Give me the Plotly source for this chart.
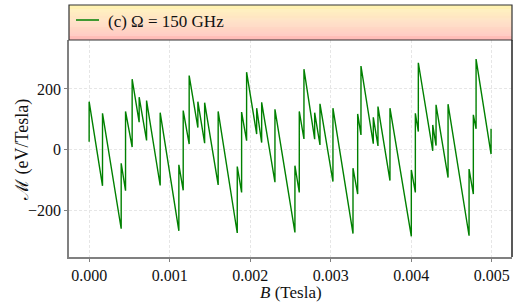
import plotly.graph_objects as go

# Magnetization sawtooth vertices (B in Tesla, M in eV/Tesla)
B = [0.0, 0.0, 0.000166, 0.000166, 0.000398, 0.000398, 0.000452, 0.000452,
     0.000534, 0.000534, 0.000621, 0.000621, 0.000713, 0.000713,
     0.000882, 0.000882, 0.001114, 0.001114, 0.001168, 0.001168,
     0.001242, 0.001242, 0.001350, 0.001350, 0.001434, 0.001434,
     0.001602, 0.001602, 0.001839, 0.001839, 0.001893, 0.001893,
     0.001955, 0.001955, 0.002080, 0.002080, 0.002142, 0.002142,
     0.002307, 0.002307, 0.002555, 0.002555, 0.002609, 0.002609,
     0.002667, 0.002667, 0.002800, 0.002800, 0.002866, 0.002866,
     0.003027, 0.003027, 0.003276, 0.003276, 0.003334, 0.003334,
     0.003375, 0.003375, 0.003528, 0.003528, 0.003586, 0.003586,
     0.003735, 0.003735, 0.004000, 0.004000, 0.004050, 0.004050,
     0.004087, 0.004087, 0.004266, 0.004266, 0.004307, 0.004307,
     0.004456, 0.004456, 0.004717, 0.004717, 0.004770, 0.004770,
     0.004804, 0.004804, 0.004990, 0.004990]
M = [27, 158, -118, 120, -259, -44, -134, 126,
     9, 232, 91, 173, 31, 162,
     -117, 122, -266, -49, -133, 129,
     19, 244, 73, 158, 22, 155,
     -115, 126, -273, -55, -140, 124,
     30, 255, 52, 137, 24, 156,
     -106, 133, -271, -52, -140, 126,
     36, 265, 35, 122, 16, 151,
     -104, 137, -275, -60, -145, 118,
     49, 275, 20, 107, 13, 142,
     -101, 137, -284, -66, -140, 120,
     60, 286, -3, 82, 14, 148,
     -91, 150, -282, -63, -145, 115,
     69, 298, -14, 69]

x_ticks = [0.000, 0.001, 0.002, 0.003, 0.004, 0.005]
x_tick_labels = ["0.000", "0.001", "0.002", "0.003", "0.004", "0.005"]
y_ticks = [-200, 0, 200]
y_tick_labels = ["\u2212200", "0", "200"]
series_name = "(c) \u03a9 = 150 GHz"
x_title = "<i>B</i> (Tesla)"
y_title = "\u2133 (eV/Tesla)"

FONT = "Liberation Serif"
TXT = "#111111"
W, H = 518, 304
ML, MR, MT, MB = 69, 6, 40, 47
plot_h = H - MT - MB
plot_w = W - ML - MR


def px_x(px):
    return (px - ML) / plot_w


def px_y(py):
    return (H - MB - py) / plot_h


fig = go.Figure()
fig.add_trace(go.Scatter(x=B, y=M, mode="lines", name=series_name,
                         line=dict(color="#008000", width=1.4), showlegend=False))

shapes = []
# gradient legend box above the axes
leg_top = px_y(5)
n = 36
c_top = (255, 246, 178)
c_bot = (255, 184, 184)
for i in range(n):
    t = (i + 0.5) / n
    r = round(c_top[0] + (c_bot[0] - c_top[0]) * t)
    g = round(c_top[1] + (c_bot[1] - c_top[1]) * t)
    b = round(c_top[2] + (c_bot[2] - c_top[2]) * t)
    y1 = leg_top - (leg_top - 1) * i / n
    y0 = leg_top - (leg_top - 1) * (i + 1) / n
    shapes.append(dict(type="rect", xref="paper", yref="paper", x0=0, x1=1,
                       y0=y0, y1=y1, fillcolor=f"rgb({r},{g},{b})",
                       line=dict(width=0), layer="below"))
shapes.append(dict(type="rect", xref="paper", yref="paper", x0=0, x1=1,
                   y0=1, y1=leg_top, line=dict(color="#333333", width=1.2)))
# legend sample line
shapes.append(dict(type="line", xref="paper", yref="paper",
                   x0=px_x(76), x1=px_x(99), y0=px_y(20), y1=px_y(20),
                   line=dict(color="#008000", width=1.5)))
# right border (darker)
shapes.append(dict(type="line", xref="paper", yref="paper", x0=1, x1=1, y0=0, y1=1,
                   line=dict(color="#222222", width=1.5)))

annotations = [
    dict(text=series_name, xref="paper", yref="paper", x=px_x(106), y=px_y(21),
         xanchor="left", yanchor="middle", showarrow=False,
         font=dict(family=FONT, size=17, color=TXT)),
    dict(text=x_title, xref="paper", yref="paper", x=px_x(290.5), y=px_y(281),
         xanchor="center", yanchor="top", showarrow=False,
         font=dict(family=FONT, size=17, color=TXT)),
    dict(text=y_title, xref="paper", yref="paper", x=px_x(22), y=px_y(150),
         xanchor="center", yanchor="middle", showarrow=False, textangle=-90,
         font=dict(family=FONT, size=18, color=TXT)),
]

grid = dict(showgrid=True, gridcolor="#e6e6e6", griddash="3px,2px", gridwidth=0.8,
            zeroline=False, showline=True, linecolor="#808080", linewidth=1.5,
            ticks="outside", ticklen=3, tickcolor="#808080",
            tickfont=dict(size=16, color=TXT))

fig.update_layout(
    width=W, height=H,
    margin=dict(l=ML, r=MR, t=MT, b=MB),
    paper_bgcolor="white", plot_bgcolor="white",
    font=dict(family=FONT, size=16, color=TXT),
    shapes=shapes,
    annotations=annotations,
    xaxis=dict(range=[-0.00025, 0.00525], tickvals=x_ticks, ticktext=x_tick_labels, **grid),
    yaxis=dict(range=[-351.8, 360.7], tickvals=y_ticks, ticktext=y_tick_labels, **grid),
)

fig.write_html("out.html", config={"displayModeBar": False},
               post_script="document.body.style.margin='0';document.body.style.padding='0';")
